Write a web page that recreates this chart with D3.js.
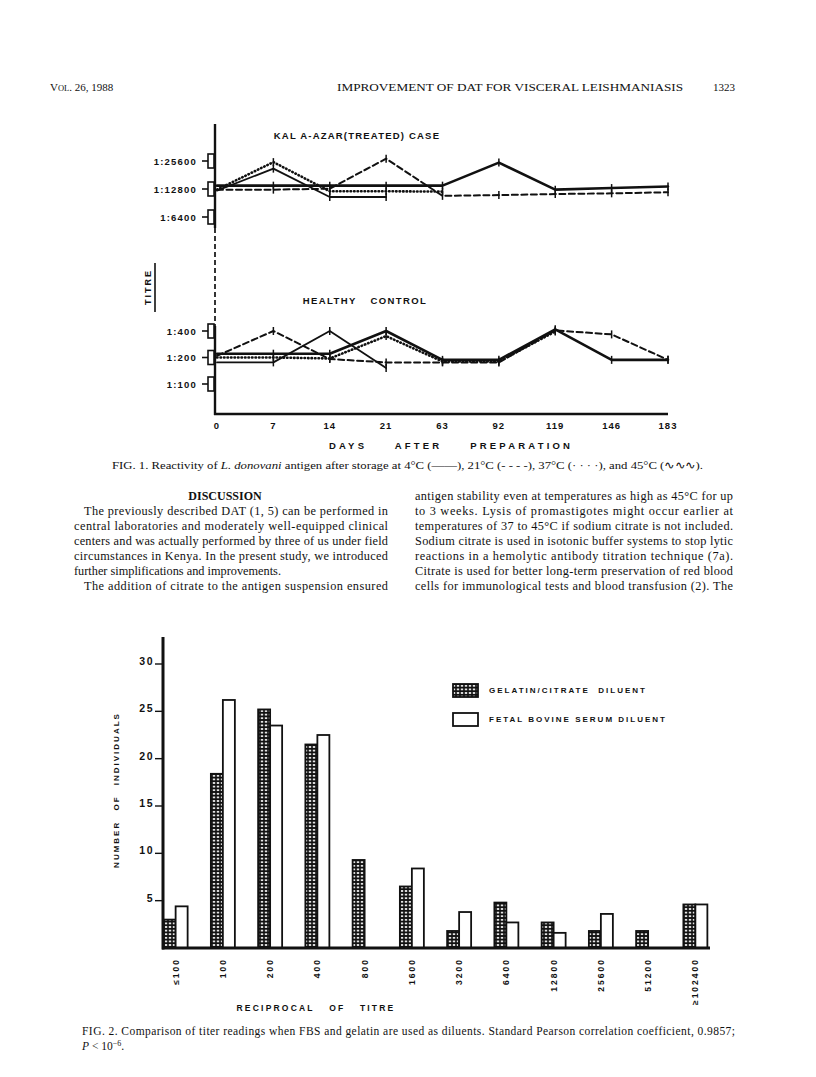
<!DOCTYPE html>
<html>
<head>
<meta charset="utf-8">
<script src="https://cdn.jsdelivr.net/npm/d3@7"></script>
<style>
  html, body { margin: 0; padding: 0; background: #fff; }
  svg { display: block; }
  .serif { font-family: "Liberation Serif", "Times New Roman", serif; fill: #111; }
  .lab { font-family: "Liberation Sans", Arial, sans-serif; font-weight: bold; fill: #111; }
</style>
</head>
<body>
<div id="page"></div>
<script>
// ---- data: Fig. 1 (titre vs days after preparation) ----
const days = [0, 7, 14, 21, 63, 92, 119, 146, 183];
const kalaTicks = [25600, 12800, 6400];
const healthyTicks = [400, 200, 100];
// reciprocal titres (small offsets are as drawn)
const kala4 = [13900, 13900, 13900, 13900, 13900, 24600, 12600, 13100, 13600];
const kala21 = [12600, 12600, 12900, 27100, 10800, 11000, 11300, 11500, 11800];
const kala37 = [12600, 24900, 12100, 12100, 12000];
const kala45 = [12300, 21200, 10500, 10500];
const healthy4 = [221, 221, 221, 400, 188, 188, 418, 188, 188];
const healthy21 = [209, 400, 192, 176, 176, 176, 406, 366, 188];
const healthy37 = [200, 200, 195, 350, 180, 180, 395];
const healthy45 = [176, 176, 400, 152];

// ---- data: Fig. 2 (number of individuals per reciprocal titre) ----
const titreCats = ['≤100', '100', '200', '400', '800', '1600', '3200', '6400', '12800', '25600', '51200', '≥102400'];
const gelatin = [3.0, 18.4, 25.2, 21.5, 9.3, 6.5, 1.8, 4.8, 2.7, 1.8, 1.8, 4.6];
const fbs = [4.4, 26.2, 23.5, 22.5, 0, 8.4, 3.8, 2.7, 1.6, 3.6, 0, 4.6];
const countTicks = [5, 10, 15, 20, 25, 30];

// ---- body text ----
const leftLines = [
  'The previously described DAT (1, 5) can be performed in',
  'central laboratories and moderately well-equipped clinical',
  'centers and was actually performed by three of us under field',
  'circumstances in Kenya. In the present study, we introduced',
  'further simplifications and improvements.',
  'The addition of citrate to the antigen suspension ensured'
];
const rightLines = [
  'antigen stability even at temperatures as high as 45°C for up',
  'to 3 weeks. Lysis of promastigotes might occur earlier at',
  'temperatures of 37 to 45°C if sodium citrate is not included.',
  'Sodium citrate is used in isotonic buffer systems to stop lytic',
  'reactions in a hemolytic antibody titration technique (7a).',
  'Citrate is used for better long-term preservation of red blood',
  'cells for immunological tests and blood transfusion (2). The'
];

const W = 816, H = 1077;
const svg = d3.select('#page').append('svg').attr('width', W).attr('height', H);

// ─── running head ───
const head = svg.append('text').attr('class', 'serif').attr('x', 50).attr('y', 91).style('font-size', '11px');
head.append('tspan').text('V');
head.append('tspan').style('font-size', '8.5px').text('OL');
head.append('tspan').text('. 26, 1988');
svg.append('text').attr('class', 'serif').attr('x', 337).attr('y', 91)
  .attr('textLength', 346).attr('lengthAdjust', 'spacingAndGlyphs')
  .style('font-size', '11px').text('IMPROVEMENT OF DAT FOR VISCERAL LEISHMANIASIS');
svg.append('text').attr('class', 'serif').attr('x', 713).attr('y', 91)
  .style('font-size', '11px').text('1323');

// ─── Fig. 1 ───
const x1 = d3.scalePoint().domain(days).range([217, 668]);
const yTop = d3.scaleLog().base(2).domain([6400, 25600]).range([217, 161]);
const yBot = d3.scaleLog().base(2).domain([100, 400]).range([384, 331]);
const axisX = 215, baseY = 414;

const styles = {
  t4: { dash: null, w: 2.6 },
  t21: { dash: '6,3.5', w: 2 },
  t37: { dash: '0.5,3', w: 2.6 },
  t45: { dash: null, w: 1.8 }
};

function drawSeries(g, vals, y, st) {
  const pts = vals.map((v, i) => [x1(days[i]), y(v)]);
  g.append('path')
    .attr('d', d3.line()(pts))
    .attr('fill', 'none')
    .attr('stroke', '#111')
    .attr('stroke-width', st.w)
    .attr('stroke-linecap', 'round')
    .attr('stroke-linejoin', 'round')
    .attr('stroke-dasharray', st.dash);
  g.selectAll(null).data(pts.slice(1)).join('line')
    .attr('x1', d => d[0]).attr('x2', d => d[0])
    .attr('y1', d => d[1] - 4).attr('y2', d => d[1] + 4)
    .attr('stroke', '#111').attr('stroke-width', 1.5);
}

const f1 = svg.append('g');

// axis: solid in the panels, dashed between them
f1.append('line').attr('x1', axisX).attr('x2', axisX).attr('y1', 124).attr('y2', 228)
  .attr('stroke', '#111').attr('stroke-width', 2.4);
f1.append('line').attr('x1', axisX).attr('x2', axisX).attr('y1', 228).attr('y2', 326)
  .attr('stroke', '#111').attr('stroke-width', 1.7).attr('stroke-dasharray', '5,3');
f1.append('line').attr('x1', axisX).attr('x2', axisX).attr('y1', 326).attr('y2', baseY + 1)
  .attr('stroke', '#111').attr('stroke-width', 2.4);
f1.append('line').attr('x1', axisX - 1).attr('x2', 668).attr('y1', baseY).attr('y2', baseY)
  .attr('stroke', '#111').attr('stroke-width', 2.6);

function yTicks(ticks, y) {
  ticks.forEach(t => {
    const yy = y(t);
    f1.append('line').attr('x1', 202).attr('x2', 208).attr('y1', yy).attr('y2', yy)
      .attr('stroke', '#111').attr('stroke-width', 1.6);
    f1.append('rect').attr('x', 208).attr('y', yy - 7).attr('width', 6).attr('height', 14)
      .attr('fill', '#fff').attr('stroke', '#111').attr('stroke-width', 1.6);
    f1.append('text').attr('class', 'lab').attr('x', 197).attr('y', yy + 3.5)
      .attr('text-anchor', 'end').style('font-size', '9.5px').style('letter-spacing', '1.2px')
      .text('1:' + t);
  });
}
yTicks(kalaTicks, yTop);
yTicks(healthyTicks, yBot);

drawSeries(f1, kala45, yTop, styles.t45);
drawSeries(f1, kala4, yTop, styles.t4);
drawSeries(f1, kala21, yTop, styles.t21);
drawSeries(f1, kala37, yTop, styles.t37);
drawSeries(f1, healthy45, yBot, styles.t45);
drawSeries(f1, healthy4, yBot, styles.t4);
drawSeries(f1, healthy21, yBot, styles.t21);
drawSeries(f1, healthy37, yBot, styles.t37);

// day labels
f1.selectAll('.dayLab').data(days).join('text')
  .attr('class', 'lab').attr('x', d => x1(d)).attr('y', 429)
  .attr('text-anchor', 'middle').style('font-size', '9.5px').style('letter-spacing', '1px')
  .text(d => d);

f1.append('text').attr('class', 'lab').attr('x', 357).attr('y', 139)
  .attr('text-anchor', 'middle').style('font-size', '9.5px').style('letter-spacing', '1.2px')
  .text('KAL A-AZAR(TREATED) CASE');
f1.append('text').attr('class', 'lab').attr('x', 365).attr('y', 304)
  .attr('text-anchor', 'middle').style('font-size', '9.5px').style('letter-spacing', '1.4px')
  .style('word-spacing', '10px').text('HEALTHY CONTROL');
f1.append('text').attr('class', 'lab').attr('x', 451).attr('y', 449)
  .attr('text-anchor', 'middle').style('font-size', '9.5px').style('letter-spacing', '3.2px')
  .style('word-spacing', '22px').text('DAYS AFTER PREPARATION');
f1.append('text').attr('class', 'lab')
  .attr('transform', 'translate(151,287) rotate(-90)')
  .attr('text-anchor', 'middle').style('font-size', '9px').style('letter-spacing', '2px')
  .text('TITRE');
f1.append('line').attr('x1', 155).attr('x2', 155).attr('y1', 263).attr('y2', 312)
  .attr('stroke', '#111').attr('stroke-width', 1.6);

// caption 1
const cap1 = svg.append('text').attr('class', 'serif').attr('x', 112).attr('y', 469)
  .attr('textLength', 591).attr('lengthAdjust', 'spacingAndGlyphs').style('font-size', '11px');
cap1.append('tspan').text('FIG. 1. Reactivity of ');
cap1.append('tspan').style('font-style', 'italic').text('L. donovani');
cap1.append('tspan').text(' antigen after storage at 4°C (——), 21°C (- - - -), 37°C (· · · ·), and 45°C (∿∿∿).');

// ─── body text in two columns ───
const lineH = 15;
svg.append('text').attr('class', 'serif').attr('x', 225).attr('y', 500)
  .attr('text-anchor', 'middle').style('font-size', '12px').style('font-weight', 'bold')
  .text('DISCUSSION');
leftLines.forEach((s, i) => {
  const indent = (i === 0 || i === 5) ? 10 : 0;
  const t = svg.append('text').attr('class', 'serif')
    .attr('x', 74 + indent).attr('y', 515 + i * lineH).style('font-size', '12.3px').text(s);
  if (i !== 4) t.attr('textLength', 314 - indent).attr('lengthAdjust', 'spacing');
});
rightLines.forEach((s, i) => {
  svg.append('text').attr('class', 'serif')
    .attr('x', 415).attr('y', 500 + i * lineH).style('font-size', '12.3px')
    .attr('textLength', 318).attr('lengthAdjust', 'spacing').text(s);
});

// ─── Fig. 2 ───
const f2 = svg.append('g');
const x2 = d3.scaleBand().domain(titreCats).range([152, 719]);
const y2 = d3.scaleLinear().domain([0, 30]).range([948, 664]);
const barW = 12;
const base2 = y2(0);

const defs = svg.append('defs');
const pat = defs.append('pattern').attr('id', 'dots').attr('patternUnits', 'userSpaceOnUse')
  .attr('width', 4).attr('height', 3.6);
pat.append('rect').attr('width', 4).attr('height', 3.6).attr('fill', '#111');
pat.append('ellipse').attr('cx', 2).attr('cy', 1.8).attr('rx', 1.4).attr('ry', 0.9).attr('fill', '#fff');

const center = c => x2(c) + x2.bandwidth() / 2;

f2.selectAll('.gel').data(titreCats).join('rect')
  .attr('x', d => center(d) - barW)
  .attr('y', (d, i) => y2(gelatin[i]))
  .attr('width', barW)
  .attr('height', (d, i) => base2 - y2(gelatin[i]))
  .attr('fill', 'url(#dots)').attr('stroke', '#111').attr('stroke-width', 1.8);

f2.selectAll('.fbs').data(titreCats.filter((d, i) => fbs[i] > 0)).join('rect')
  .attr('x', d => center(d))
  .attr('y', d => y2(fbs[titreCats.indexOf(d)]))
  .attr('width', barW)
  .attr('height', d => base2 - y2(fbs[titreCats.indexOf(d)]))
  .attr('fill', '#fff').attr('stroke', '#111').attr('stroke-width', 1.8);

// axes
f2.append('line').attr('x1', 163).attr('x2', 163).attr('y1', 637).attr('y2', base2 + 1.5)
  .attr('stroke', '#111').attr('stroke-width', 3);
f2.append('line').attr('x1', 162).attr('x2', 710).attr('y1', base2).attr('y2', base2)
  .attr('stroke', '#111').attr('stroke-width', 3);

countTicks.forEach(t => {
  f2.append('line').attr('x1', 155).attr('x2', 162).attr('y1', y2(t)).attr('y2', y2(t))
    .attr('stroke', '#111').attr('stroke-width', 1.4);
  f2.append('text').attr('class', 'lab').attr('x', 154).attr('y', y2(t) + 1)
    .attr('text-anchor', 'end').style('font-size', '10.5px').style('letter-spacing', '1.5px')
    .text(t);
});

f2.selectAll('.catLab').data(titreCats).join('text')
  .attr('class', 'lab')
  .attr('transform', d => `translate(${center(d) + 3},${base2 + 10}) rotate(-90)`)
  .attr('text-anchor', 'end').style('font-size', '8.5px').style('letter-spacing', '2px')
  .text(d => d);

f2.append('text').attr('class', 'lab')
  .attr('transform', 'translate(119,790) rotate(-90)')
  .attr('text-anchor', 'middle').style('font-size', '8px').style('letter-spacing', '2px')
  .style('word-spacing', '6px').text('NUMBER OF INDIVIDUALS');
f2.append('text').attr('class', 'lab').attr('x', 316).attr('y', 1011)
  .attr('text-anchor', 'middle').style('font-size', '8.5px').style('letter-spacing', '2.2px')
  .style('word-spacing', '10px').text('RECIPROCAL OF TITRE');

// legend
const legend = [
  { label: 'GELATIN/CITRATE  DILUENT', fill: 'url(#dots)', y: 684 },
  { label: 'FETAL BOVINE SERUM DILUENT', fill: '#fff', y: 713 }
];
legend.forEach(l => {
  f2.append('rect').attr('x', 453).attr('y', l.y).attr('width', 25).attr('height', 13)
    .attr('fill', l.fill).attr('stroke', '#111').attr('stroke-width', 1.8);
  f2.append('text').attr('class', 'lab').attr('x', 489).attr('y', l.y + 9)
    .style('font-size', '8px').style('letter-spacing', '2px').style('white-space', 'pre')
    .text(l.label);
});

// caption 2
svg.append('text').attr('class', 'serif').attr('x', 82).attr('y', 1035)
  .attr('textLength', 653).attr('lengthAdjust', 'spacing').style('font-size', '11.5px')
  .text('FIG. 2. Comparison of titer readings when FBS and gelatin are used as diluents. Standard Pearson correlation coefficient, 0.9857;');
const cap2 = svg.append('text').attr('class', 'serif').attr('x', 82).attr('y', 1050).style('font-size', '11.5px');
cap2.append('tspan').style('font-style', 'italic').text('P');
cap2.append('tspan').text(' < 10');
cap2.append('tspan').attr('dy', -4).style('font-size', '8px').text('−6');
cap2.append('tspan').attr('dy', 4).text('.');
</script>
</body>
</html>
